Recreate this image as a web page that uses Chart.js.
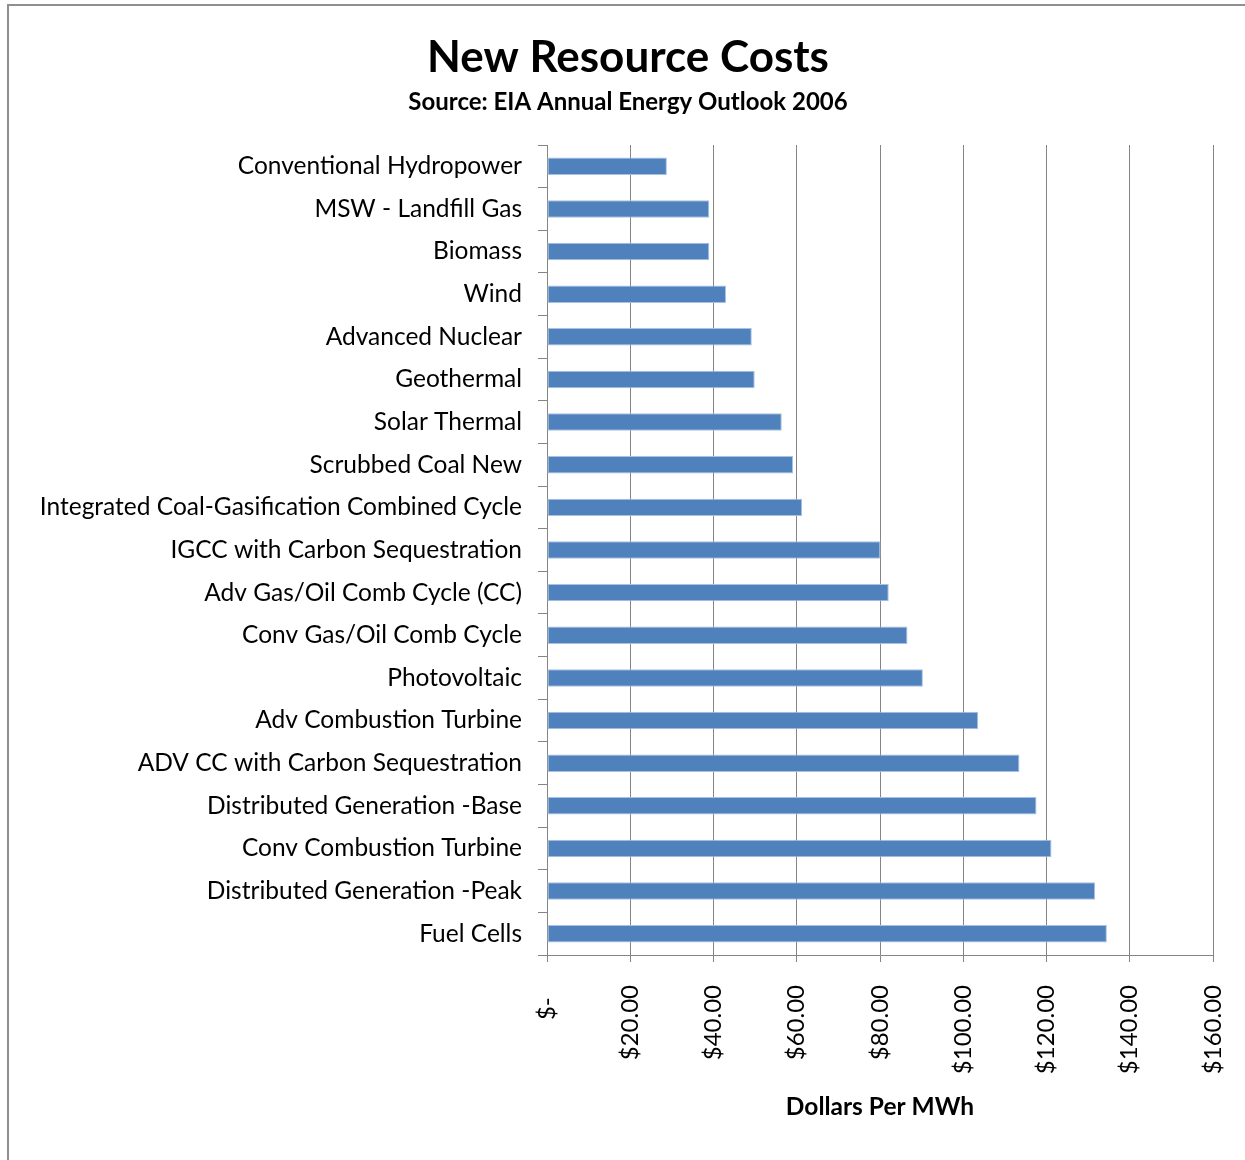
<!DOCTYPE html>
<html>
<head>
<meta charset="utf-8">
<title>New Resource Costs</title>
<script src="https://cdn.jsdelivr.net/npm/chart.js@4.4.1/dist/chart.umd.min.js"></script>
<style>
  html, body { margin: 0; padding: 0; background: #fff; overflow: hidden; }
  #frame { position: absolute; left: 7px; top: 4px; width: 1300px; height: 1300px; border: 2px solid #8f8f8f; box-sizing: border-box; }
  #wrap { position: absolute; left: 0; top: 0; width: 1245px; height: 1160px; }
</style>
</head>
<body>
<div id="frame"></div>
<div id="wrap"><canvas id="costChart" width="1245" height="1160"></canvas></div>
<script>
// Levelized cost of new generation, dollars per MWh
const resources = [
    'Conventional Hydropower',
    'MSW - Landfill Gas',
    'Biomass',
    'Wind',
    'Advanced Nuclear',
    'Geothermal',
    'Solar Thermal',
    'Scrubbed Coal New',
    'Integrated Coal-Gasification Combined Cycle',
    'IGCC with Carbon Sequestration',
    'Adv Gas/Oil Comb Cycle (CC)',
    'Conv Gas/Oil Comb Cycle',
    'Photovoltaic',
    'Adv Combustion Turbine',
    'ADV CC with Carbon Sequestration',
    'Distributed Generation -Base',
    'Conv Combustion Turbine',
    'Distributed Generation -Peak',
    'Fuel Cells'
];
const costs = [28.8, 39.0, 39.0, 43.0, 49.2, 49.9, 56.4, 59.1, 61.3, 80.1,
               82.1, 86.6, 90.3, 103.6, 113.5, 117.6, 121.2, 131.7, 134.5];

// x axis: 0..160 every 20, accounting style labels
const xTickLabels = ['$-  ', '$20.00', '$40.00', '$60.00', '$80.00',
                     '$100.00', '$120.00', '$140.00', '$160.00'];

const FONT = 'Lato, "Open Sans", sans-serif';
const GRID = '#858585';

// the long category names run past the left edge of the y scale box,
// so widen its label clip region before drawing
const labelRoom = {
    id: 'labelRoom',
    beforeDraw(c) { c.scales.y.left = 0; }
};

const chart = new Chart(document.getElementById('costChart'), {
    type: 'bar',
    data: {
        labels: resources,
        datasets: [{
            data: costs,
            backgroundColor: '#4F81BD',
            borderColor: '#a9c1e0',
            borderWidth: 1,
            borderSkipped: false,
            barPercentage: 0.41,
            categoryPercentage: 1
        }]
    },
    options: {
        indexAxis: 'y',
        responsive: false,
        animation: false,
        devicePixelRatio: 1,
        layout: { padding: { left: 43, right: 32, top: 0, bottom: 0 } },
        plugins: {
            legend: { display: false },
            tooltip: { enabled: false },
            title: {
                display: true,
                text: 'New Resource Costs',
                color: '#000',
                font: { family: FONT, size: 44, weight: 'bold', lineHeight: 1.2 },
                padding: { top: 31, bottom: 4 }
            },
            subtitle: {
                display: true,
                text: 'Source: EIA Annual Energy Outlook 2006',
                color: '#000',
                font: { family: FONT, size: 24, weight: 'bold', lineHeight: 1.2 },
                padding: { top: 0, bottom: 28.4 }
            }
        },
        scales: {
            x: {
                min: 0,
                max: 160,
                afterFit: (scale) => {
                    scale.height = 205;
                    scale.paddingLeft = 0;
                    scale.paddingRight = 0;
                },
                ticks: {
                    stepSize: 20,
                    minRotation: 90,
                    maxRotation: 90,
                    padding: 23,
                    color: '#000',
                    font: { family: FONT, size: 24 },
                    callback: (value) => xTickLabels[Math.round(value / 20)]
                },
                grid: { color: GRID, lineWidth: 1, tickLength: 7 },
                border: { color: GRID, width: 1 },
                title: {
                    display: true,
                    text: 'Dollars Per MWh',
                    color: '#000',
                    font: { family: FONT, size: 24.5, weight: 'bold', lineHeight: 1.2 },
                    padding: { top: 0, bottom: 38 }
                }
            },
            y: {
                afterFit: (scale) => { scale.width = 547 - 43; },
                ticks: {
                    padding: 16,
                    color: '#000',
                    font: { family: FONT, size: 24.5 },
                    autoSkip: false
                },
                grid: { color: GRID, lineWidth: 1, drawOnChartArea: false, tickLength: 9, offset: true },
                border: { color: GRID, width: 1 }
            }
        }
    },
    plugins: [labelRoom]
});
</script>
</body>
</html>
